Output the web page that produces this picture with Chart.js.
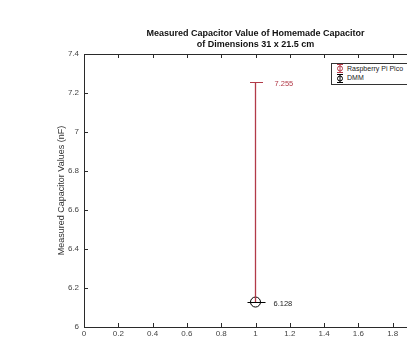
<!DOCTYPE html>
<html>
<head>
<meta charset="utf-8">
<script src="https://cdn.jsdelivr.net/npm/chart.js@4"></script>
<style>
  html, body { margin: 0; padding: 0; background: #fff; overflow: hidden; }
  #wrap { position: relative; width: 440px; height: 337px; }
  #legendBox {
    position: absolute; left: 331px; top: 63px; width: 100px; height: 20px;
    border: 1px solid #333; background: #fff;
    font: 7px "Liberation Sans", Arial, sans-serif; color: #222;
  }
  .item { position: absolute; left: 15px; }
  .icon { position: absolute; }
</style>
</head>
<body>
<div id="wrap">
  <canvas id="capChart" width="440" height="337"></canvas>
  <div id="legendBox">
    <div class="item" style="top:1px">Raspberry Pi Pico</div>
    <div class="item" style="top:10px">DMM</div>
  </div>
</div>
<script>
// data
const measureX = [1];
const piValues = [7.255];
const dmmValues = [6.128];
const xTicks = [0, 0.2, 0.4, 0.6, 0.8, 1, 1.2, 1.4, 1.6, 1.8, 2];
const yTicks = [6, 6.2, 6.4, 6.6, 6.8, 7, 7.2, 7.4];

const piColor = '#b23a48';
const axisColor = '#2a2a2a';
const font = '"Liberation Sans", Arial, sans-serif';

// legend icons (small marker + error bar, like matlab)
function legendIcon(top, color) {
  const c = document.createElement('canvas');
  c.width = 8; c.height = 9;
  c.className = 'icon';
  c.style.left = '4px';
  c.style.top = top + 'px';
  const g = c.getContext('2d');
  g.strokeStyle = color; g.lineWidth = 1;
  g.beginPath();
  g.moveTo(1, 0.5); g.lineTo(7, 0.5);
  g.moveTo(1, 8.5); g.lineTo(7, 8.5);
  g.moveTo(4, 0); g.lineTo(4, 9);
  g.stroke();
  g.beginPath(); g.arc(4, 4.5, 2.5, 0, Math.PI * 2); g.stroke();
  document.getElementById('legendBox').appendChild(c);
}
legendIcon(0, piColor);
legendIcon(10, '#000');

// draws matlab style box, inward ticks, error bar caps, value labels and titles
const matlabPlugin = {
  id: 'matlabPlugin',
  afterDraw(chart) {
    const ctx = chart.ctx;
    const a = chart.chartArea;
    const xs = chart.scales.x, ys = chart.scales.y;
    ctx.save();
    ctx.strokeStyle = axisColor;
    ctx.lineWidth = 1;
    ctx.strokeRect(a.left + 0.5, a.top + 0.5, a.right - a.left, a.bottom - a.top);
    ctx.beginPath();
    xTicks.forEach(t => {
      const px = Math.round(xs.getPixelForValue(t)) + 0.5;
      ctx.moveTo(px, a.bottom); ctx.lineTo(px, a.bottom - 4);
      ctx.moveTo(px, a.top); ctx.lineTo(px, a.top + 4);
    });
    yTicks.forEach(t => {
      const py = Math.round(ys.getPixelForValue(t)) + 0.5;
      ctx.moveTo(a.left, py); ctx.lineTo(a.left + 4, py);
      ctx.moveTo(a.right, py); ctx.lineTo(a.right - 4, py);
    });
    ctx.stroke();

    measureX.forEach((xv, i) => {
      const px = Math.round(xs.getPixelForValue(xv)) + 0.5;
      const pyPi = Math.round(ys.getPixelForValue(piValues[i])) + 0.5;
      const pyD = Math.round(ys.getPixelForValue(dmmValues[i])) + 0.5;
      // red cap at top
      ctx.strokeStyle = piColor;
      ctx.beginPath();
      ctx.moveTo(px - 6.5, pyPi); ctx.lineTo(px + 6.5, pyPi);
      ctx.stroke();
      // black horizontal bar through DMM marker
      ctx.strokeStyle = '#000';
      ctx.beginPath();
      ctx.moveTo(px - 9, pyD); ctx.lineTo(px + 9, pyD);
      ctx.stroke();
      ctx.font = '7.5px ' + font;
      ctx.textBaseline = 'middle';
      ctx.fillStyle = piColor;
      ctx.fillText(piValues[i].toString(), px + 18, pyPi + 1);
      ctx.fillStyle = '#222';
      ctx.fillText(dmmValues[i].toString(), px + 17, pyD + 1);
    });

    // title centered over the axes
    const cx = (a.left + a.right) / 2;
    ctx.fillStyle = '#111';
    ctx.font = 'bold 9px ' + font;
    ctx.textAlign = 'center';
    ctx.fillText('Measured Capacitor Value of Homemade Capacitor', cx, 34);
    ctx.fillText('of Dimensions 31 x 21.5 cm', cx, 45);

    // y axis label
    ctx.translate(62, (a.top + a.bottom) / 2);
    ctx.rotate(-Math.PI / 2);
    ctx.fillStyle = '#333';
    ctx.font = '9px ' + font;
    ctx.textBaseline = 'middle';
    ctx.fillText('Measured Capacitor Values (nF)', 0, 0);
    ctx.restore();
  }
};

new Chart(document.getElementById('capChart'), {
  type: 'scatter',
  data: {
    datasets: [
      {
        label: 'Raspberry Pi Pico',
        data: measureX.map((x, i) => [{ x: x, y: dmmValues[i] }, { x: x, y: piValues[i] }]).flat(),
        showLine: true,
        borderColor: piColor,
        borderWidth: 1.3,
        pointRadius: 0
      },
      {
        label: 'DMM',
        data: measureX.map((x, i) => ({ x: x, y: dmmValues[i] })),
        borderColor: '#000',
        backgroundColor: 'rgba(0,0,0,0)',
        borderWidth: 1,
        pointRadius: 5
      }
    ]
  },
  options: {
    responsive: false,
    animation: false,
    layout: { padding: { top: 54, right: 13, left: 0, bottom: 0 } },
    plugins: {
      legend: { display: false },
      tooltip: { enabled: false }
    },
    scales: {
      x: {
        type: 'linear', min: 0, max: 2,
        afterBuildTicks: s => { s.ticks = xTicks.map(v => ({ value: v })); },
        afterFit: s => { s.height = 10; },
        grid: { display: false, drawTicks: false },
        border: { display: false },
        ticks: {
          padding: 2, color: '#444', maxRotation: 0,
          font: { family: font, size: 8 },
          callback: v => +v.toFixed(1)
        }
      },
      y: {
        type: 'linear', min: 6, max: 7.4,
        afterBuildTicks: s => { s.ticks = yTicks.map(v => ({ value: v })); },
        afterFit: s => { s.width = 84; },
        grid: { display: false, drawTicks: false },
        border: { display: false },
        ticks: {
          padding: 5, color: '#444',
          font: { family: font, size: 8 },
          callback: v => +v.toFixed(1)
        }
      }
    }
  },
  plugins: [matlabPlugin]
});
</script>
</body>
</html>
